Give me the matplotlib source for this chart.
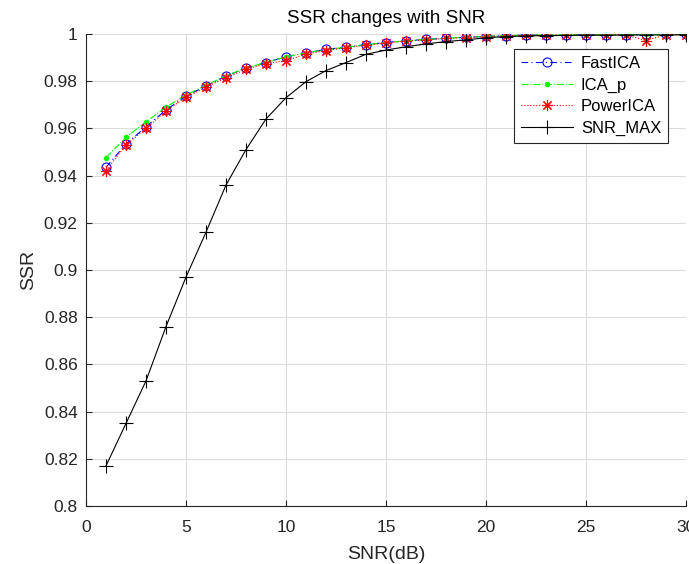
import numpy as np
import matplotlib
matplotlib.use('Agg')
import matplotlib.pyplot as plt

# SNR values (dB)
snr = list(range(1, 31))

# SSR curves
fastica = [0.9435, 0.9534, 0.9607, 0.9678, 0.9737, 0.9780, 0.9822, 0.9855, 0.9879, 0.9904,
           0.9920, 0.9935, 0.9944, 0.9955, 0.9964, 0.9971, 0.9977, 0.9982, 0.9986, 0.9990,
           0.9993, 0.9995, 0.9996, 0.9996, 0.9997, 0.9997, 0.9997, 0.9998, 0.9998, 0.9998]
ica_p = [0.9476, 0.9562, 0.9628, 0.9690, 0.9742, 0.9782, 0.9823, 0.9856, 0.9880, 0.9903,
         0.9920, 0.9934, 0.9944, 0.9955, 0.9964, 0.9971, 0.9977, 0.9982, 0.9986, 0.9990,
         0.9993, 0.9995, 0.9996, 0.9996, 0.9997, 0.9997, 0.9997, 0.9998, 0.9998, 0.9998]
powerica = [0.9421, 0.9530, 0.9600, 0.9674, 0.9732, 0.9775, 0.9815, 0.9850, 0.9875, 0.9887,
            0.9915, 0.9930, 0.9942, 0.9953, 0.9962, 0.9970, 0.9976, 0.9981, 0.9985, 0.9989,
            0.9992, 0.9994, 0.9995, 0.9995, 0.9996, 0.9996, 0.9996, 0.9972, 0.9997, 0.9997]
snr_max = [0.8170, 0.8350, 0.8530, 0.8760, 0.8970, 0.9160, 0.9360, 0.9510, 0.9640, 0.9730,
           0.9798, 0.9845, 0.9879, 0.9914, 0.9932, 0.9946, 0.9958, 0.9968, 0.9975, 0.9984,
           0.9989, 0.9992, 0.9993, 0.9994, 0.9995, 0.9995, 0.9996, 0.9996, 0.9996, 0.9997]

plt.rcParams['font.family'] = ['Liberation Sans', 'DejaVu Sans']

fig = plt.figure(figsize=(6.89, 5.64), dpi=100)
ax = fig.add_axes([0.1248, 0.1028, 0.8708, 0.8369])

ax.plot(snr, fastica, color='#0000ff', linestyle=(0, (6, 3, 1, 3)), linewidth=0.8,
        marker='o', markersize=6.5, markerfacecolor='none', markeredgewidth=0.8, label='FastICA')
ax.plot(snr, ica_p, color='#00ff00', linestyle='-.', linewidth=0.8,
        marker='.', markersize=6, label='ICA_p')
ax.plot(snr, powerica, color='#ff0000', linestyle=':', linewidth=0.8,
        marker=(8, 2, 0), markersize=8, markeredgewidth=0.8, label='PowerICA')
ax.plot(snr, snr_max, color='black', linestyle='-', linewidth=0.8,
        marker='+', markersize=10, markeredgewidth=0.8, label='SNR_MAX')

ax.set_xlim(0, 30)
ax.set_ylim(0.8, 1.0)
ax.set_xticks(range(0, 31, 5))
ax.set_yticks(np.arange(0.8, 1.001, 0.02))
ax.set_yticklabels(['0.8', '0.82', '0.84', '0.86', '0.88', '0.9', '0.92', '0.94',
                    '0.96', '0.98', '1'])

ax.grid(True, color='#dcdcdc', linewidth=0.8)
ax.set_axisbelow(True)
for side in ['top', 'right']:
    ax.spines[side].set_visible(False)
for side in ['left', 'bottom']:
    ax.spines[side].set_color('#262626')
    ax.spines[side].set_linewidth(0.8)
ax.tick_params(direction='in', colors='#262626', labelsize=12.5, length=4, pad=6)
ax.tick_params(axis='x', pad=10)

ax.set_title('SSR changes with SNR', fontsize=13.5, color='black', pad=8)
ax.set_xlabel('SNR(dB)', fontsize=14, color='#262626', labelpad=8)
ax.set_ylabel('SSR', fontsize=14, color='#262626', labelpad=5)

leg = ax.legend(loc='upper right', bbox_to_anchor=(0.97, 0.968), borderaxespad=0,
                fontsize=12, fancybox=False, framealpha=1, edgecolor='#262626',
                handlelength=3.1, handletextpad=0.5, borderpad=0.4, labelspacing=0.4)
leg.get_frame().set_linewidth(0.8)

fig.savefig('out.png', dpi=100)
